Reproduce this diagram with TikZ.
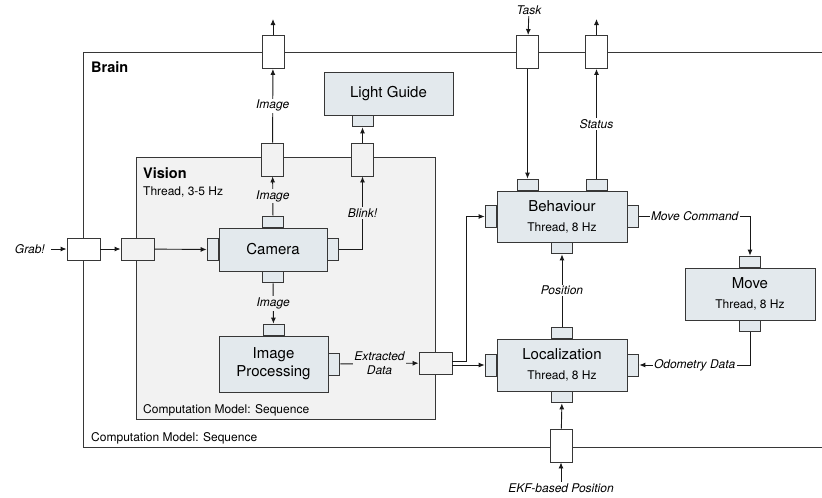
\documentclass[tikz,border=0pt]{standalone}
\usepackage{fontspec}
\setmainfont{TeX Gyre Heros}
\usetikzlibrary{arrows.meta, positioning}
\definecolor{linegray}{RGB}{55,55,55}
\definecolor{blockfill}{RGB}{227,233,237}
\definecolor{visfill}{RGB}{242,242,242}
\newcommand{\titlefnt}{\fontsize{15}{18}\selectfont}
\newcommand{\subfnt}{\fontsize{12}{14}\selectfont}
\newcommand{\headfnt}{\fontsize{14.5}{17}\selectfont\bfseries}

\begin{document}
\begin{tikzpicture}[x=1pt, y=-1pt,
    block/.style={draw=linegray, fill=blockfill, line width=0.9pt,
                  align=center, font=\titlefnt, inner sep=0pt},
    hport/.style={draw=linegray, fill=blockfill, line width=0.9pt,
                  minimum width=21pt, minimum height=11pt, inner sep=0pt},
    vport/.style={hport, minimum width=11pt, minimum height=22pt},
    wport/.style={draw=linegray, fill=white, line width=0.9pt,
                  minimum width=33pt, minimum height=22pt, inner sep=0pt},
    tport/.style={wport, minimum width=22pt, minimum height=33pt},
    conn/.style={-{Latex[length=6pt,width=5pt]}, line width=0.9pt, draw=black!90},
    lbl/.style={font=\subfnt\itshape, fill=white, inner sep=1.5pt},
    vlbl/.style={lbl, fill=visfill},
    note/.style={anchor=base west, inner sep=0pt, font=\subfnt},
  ]
  \useasboundingbox (0,0) rectangle (822,498);

  % Brain container (open to the right)
  \draw[linegray, line width=0.9pt] (822,52) -- (83,52) -- (83,447) -- (822,447);
  \node[note, font=\headfnt] (brainlbl) at (91,72) {Brain};
  \node[note] (braincm) at (91,441) {Computation Model: Sequence};

  % Vision container
  \node[draw=linegray, fill=visfill, line width=0.9pt, inner sep=0pt,
        minimum width=299pt, minimum height=262pt] (vision) at (285.5,288) {};
  \node[note, font=\headfnt] (vislbl) at (143,178) {Vision};
  \node[note] (visthr) at (143,195) {Thread, 3-5 Hz};
  \node[note] (viscm) at (143,413) {Computation Model: Sequence};

  % blocks
  \node[block, minimum width=108pt, minimum height=43pt] (cam) at (273,249.5) {Camera};
  \node[block, minimum width=109pt, minimum height=56pt] (ip) at (273.5,364) {Image\\Processing};
  \node[block, minimum width=129pt, minimum height=43pt] (lg) at (388.5,93.5) {Light Guide};
  \node[block, minimum width=130pt, minimum height=51pt] (beh) at (562,216.5)
    {Behaviour\\[2pt]\subfnt Thread, 8 Hz};
  \node[block, minimum width=130pt, minimum height=52pt] (loc) at (562,365)
    {Localization\\[2pt]\subfnt Thread, 8 Hz};
  \node[block, minimum width=130pt, minimum height=52pt] (mov) at (750,294)
    {Move\\[2pt]\subfnt Thread, 8 Hz};

  % block ports
  \node[hport, anchor=south] (camt) at (cam.north) {};
  \node[hport, anchor=north] (camb) at (cam.south) {};
  \node[vport, anchor=east]  (caml) at (cam.west) {};
  \node[vport, anchor=west]  (camr) at (cam.east) {};
  \node[hport, anchor=south] (ipt) at (ip.north) {};
  \node[vport, anchor=west]  (ipr) at (ip.east) {};
  \node[hport, anchor=south] (beht1) at ([xshift=-34.5pt]beh.north) {};
  \node[hport, anchor=south] (beht2) at ([xshift=34.5pt]beh.north) {};
  \node[hport, anchor=north] (behb) at (beh.south) {};
  \node[vport, anchor=east]  (behl) at (beh.west) {};
  \node[vport, anchor=west]  (behr) at (beh.east) {};
  \node[hport, anchor=south] (loct) at (loc.north) {};
  \node[hport, anchor=north] (locb) at (loc.south) {};
  \node[vport, anchor=east]  (locl) at (loc.west) {};
  \node[vport, anchor=west]  (locr) at (loc.east) {};
  \node[hport, anchor=south] (movt) at (mov.north) {};
  \node[hport, anchor=north] (movb) at (mov.south) {};

  % boundary ports
  \node[wport] (bgrab) at (83.5,249) {};
  \node[wport, fill=visfill] (vgrab) at (137.5,249) {};
  \node[tport, fill=visfill] (vimg) at (272.5,159.5) {};
  \node[tport, fill=visfill] (vblink) at (362.5,159.5) {};
  \node[wport, fill=visfill] (vext) at (435.5,363) {};
  \node[tport] (bimg) at (273,52) {};
  \node[tport] (btask) at (527.5,52) {};
  \node[tport] (bstat) at (596.5,52) {};
  \node[tport] (bekf) at (561,445.5) {};
  \node[hport, anchor=north] (lgb) at (vblink |- lg.south) {};

  % outside texts
  \node[lbl, anchor=east, inner sep=3pt] (grab) at (48,249) {Grab!};
  \node[lbl] (task) at (529,10) {Task};
  \node[lbl] (ekf) at (561,488) {EKF-based Position};
  \coordinate (imgout) at (273,19);
  \coordinate (statout) at (596.5,19);

  % connectors
  \draw[conn, shorten <=3pt] (grab) -- (bgrab);
  \draw[conn] (bgrab) -- (vgrab);
  \draw[conn] (vgrab) -- (caml);
  \draw[conn] (camt) -- node[vlbl]{Image} (vimg);
  \draw[conn] (vimg) -- node[lbl]{Image} (bimg);
  \draw[conn] (bimg) -- (imgout);
  \draw[conn] (camr.east) -| node[vlbl, pos=0.75]{Blink!} (vblink.south);
  \draw[conn] (vblink) -- (lgb);
  \draw[conn] (camb) -- node[vlbl]{Image} (ipt);
  \draw[conn] (ipr) -- node[vlbl, align=center, font=\fontsize{12}{14}\selectfont\itshape]
    {Extracted\\Data} (vext);
  \draw[conn] ([yshift=2pt]vext.east) -| ([xshift=-18pt]behl.west) -- (behl.west);
  \draw[conn] (vext.east |- locl.west) -- (locl.west);
  \draw[conn] (task) -- (btask);
  \draw[conn] (btask) -- (beht1);
  \draw[conn] (beht2) -- node[lbl]{Status} (bstat);
  \draw[conn] (bstat) -- (statout);
  \draw[conn] (behr.east) -| node[lbl, pos=0.25]{Move Command} (movt.north);
  \draw[conn] (movb.south) |- node[lbl, pos=0.75]{Odometry Data} (locr.east);
  \draw[conn] (loct) -- node[lbl]{Position} (behb);
  \draw[conn] (ekf) -- (bekf);
  \draw[conn] (bekf) -- (locb);
\end{tikzpicture}
\end{document}
